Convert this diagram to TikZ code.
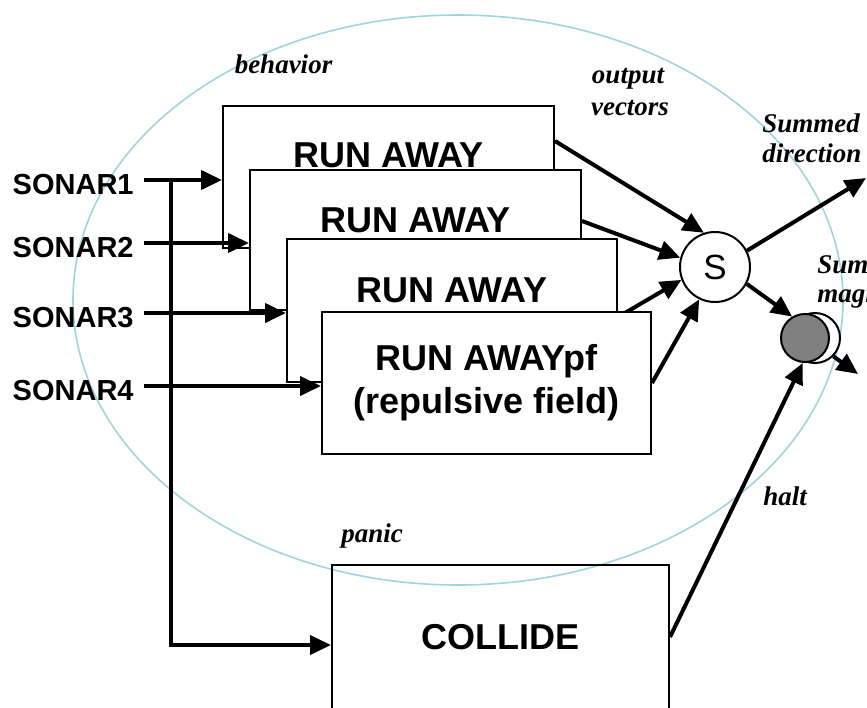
\documentclass[tikz,border=0pt]{standalone}
\usepackage{fontspec}
\setmainfont{Liberation Serif}
\setsansfont{Liberation Sans}
\usetikzlibrary{arrows.meta,calc,backgrounds}
\definecolor{ring}{RGB}{160,212,220}
\definecolor{disc}{RGB}{128,128,128}
\tikzset{
  box/.style={draw, line width=1pt, fill=white, inner sep=0pt},
  flow/.style={line width=2pt, -{Triangle[length=10.5pt,width=9.5pt]}},
  boxfont/.style={font=\sffamily\bfseries\fontsize{18}{21.5}\selectfont},
  boxtext/.style={boxfont, anchor=base, inner sep=0pt},
  sonar/.style={font=\sffamily\bfseries\fontsize{14.5}{17}\selectfont, anchor=east,
    inner xsep=5pt, inner ysep=0pt, text height=14pt, text depth=0pt},
  note/.style={font=\rmfamily\bfseries\itshape\fontsize{13.5}{16}\selectfont, anchor=base, inner sep=0pt},
  notew/.style={note, anchor=base west},
}
\begin{document}
\begin{tikzpicture}[x=0.5pt,y=-0.5pt]
\useasboundingbox (0,0) rectangle (867,707);
\clip (0,0) rectangle (867,707);

% stacked behaviour boxes, back to front
\node[box, minimum width=165.5pt, minimum height=71pt] (b1) at (388.5,177) {};
\node[boxtext] (t1) at ($(b1.north)+(0,62)$) {RUN AWAY};
\node[box, minimum width=165.5pt, minimum height=70pt] (b2) at (415.5,240) {};
\node[boxtext] (t2) at ($(b2.north)+(0,63)$) {RUN AWAY};
\node[box, minimum width=165pt, minimum height=71.5pt] (b3) at (452,310.5) {};
\node[boxtext] (t3) at ($(b3.north)+(0,64)$) {RUN AWAY};
\node[box, boxfont, minimum width=164.5pt, minimum height=71pt, align=center] (b4) at (486.5,383)
      {RUN AWAYpf\\(repulsive field)};

% panic box
\node[draw, boxfont, line width=1pt, minimum width=168.5pt, minimum height=72pt, inner sep=0pt] (C)
      at (500.5,637) {COLLIDE};

% summing node and magnitude gate
\node[draw, circle, fill=white, line width=1pt, minimum size=35pt, inner sep=0pt,
      font=\sffamily\fontsize{17.5}{20}\selectfont] (S) at (715,267) {S};
\node[draw, circle, fill=white, line width=1pt, minimum size=25pt, inner sep=0pt] (G2) at (815,338) {};
\node[draw, circle, fill=disc, line width=1pt, minimum size=24pt, inner sep=0pt] (G) at (805,338) {};

\begin{scope}[on background layer]
  % behaviour boundary
  \draw[ring, line width=0.8pt] (458,300) ellipse [x radius=385, y radius=285];
  % output vectors into the sum
  \draw[flow] ($(b1.north east)+(0,36)$) -- (S.108);
  \draw[flow] ($(b2.north east)+(0,52)$) -- (S.165);
  \draw[flow] ($(b3.north east)+(0,79)$) -- (S.201);
  \draw[flow] (b4.east) -- (S.244);
\end{scope}

% sensor inputs
\node[sonar] (s1) at (144,180) {SONAR1};
\node[sonar] (s2) at (144,243) {SONAR2};
\node[sonar] (s3) at (144,313) {SONAR3};
\node[sonar] (s4) at (144,386) {SONAR4};
\draw[flow] (s1.east) -- (s1.east -| b1.west);
\draw[flow] (s2.east) -- (s2.east -| b2.west);
\draw[flow] (s3.east) -- (s3.east -| b3.west);
\draw[flow] (s4.east) -- (s4.east -| b4.west);
\coordinate (bus) at (171,180);
\draw[flow] (bus) |- ($(C.west)+(0,8)$);

% outputs
\coordinate (dir) at (866,178);
\coordinate (mag) at (858,374);
\draw[flow] (S.27) -- (dir);
\draw[flow] (S.-28) -- (G.121);
\draw[flow] (G2.-45) -- (mag);
\draw[flow] (C.east) -- (G.265);

% labels
\node[note] (lbeh) at (283.5,73) {behavior};
\node[note] (lout1) at (628,83) {output};
\node[note] (lout2) at (630,115) {vectors};
\node[notew] (ldir1) at (762,132) {Summed};
\node[notew] (ldir2) at (762,162) {direction};
\node[notew] (lmag1) at (817,273) {Summed};
\node[notew] (lmag2) at (817,302) {magnitude};
\node[note] (lhalt) at (785,505) {halt};
\node[note] (lpanic) at (372,542) {panic};
\end{tikzpicture}
\end{document}
